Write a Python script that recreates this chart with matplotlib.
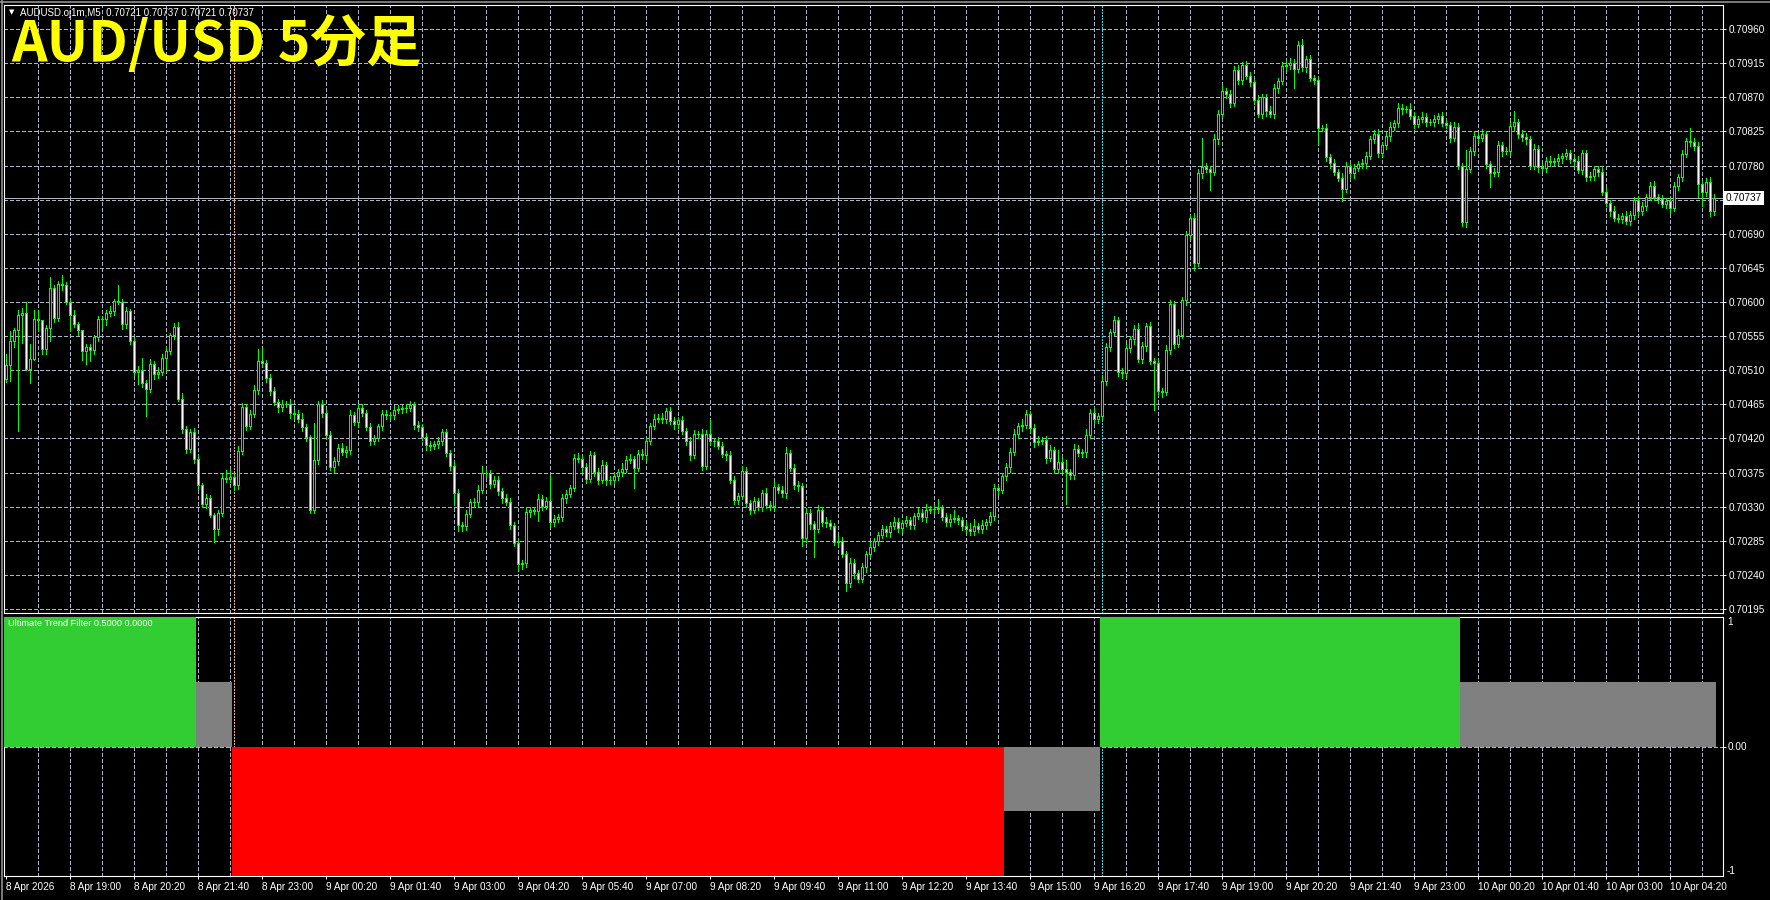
import matplotlib
matplotlib.use("Agg")
import matplotlib.pyplot as plt
from matplotlib.lines import Line2D
from matplotlib.transforms import blended_transform_factory

plt.rcParams['lines.scale_dashes'] = False

# AUDUSD M5 bars, first bar 8 Apr 17:40. prices in points above 0.70000
first_open = 499
closes = [
    517, 549, 563, 583, 585, 512, 525, 578, 576, 538, 566, 619, 579, 624, 622, 600, 583, 571, 563, 536,
    540, 537, 554, 577, 578, 585, 588, 601, 600, 571, 588, 549, 508, 510, 493, 485, 518, 505, 508, 526,
    536, 556, 567, 472, 433, 406, 428, 393, 358, 334, 342, 319, 301, 322, 368, 367, 369, 358, 404, 462,
    437, 452, 484, 522, 520, 500, 482, 468, 461, 466, 466, 453, 452, 446, 435, 422, 325, 391, 466, 454,
    424, 382, 390, 408, 402, 405, 451, 442, 460, 454, 435, 417, 420, 436, 452, 451, 451, 458, 459, 460,
    460, 464, 438, 435, 422, 411, 410, 413, 417, 428, 401, 384, 348, 306, 304, 320, 336, 336, 352, 374,
    375, 360, 365, 350, 341, 336, 306, 282, 255, 256, 323, 325, 324, 340, 331, 337, 310, 314, 316, 341,
    347, 355, 394, 393, 382, 366, 398, 376, 365, 385, 365, 365, 370, 376, 380, 392, 393, 381, 400, 398,
    416, 437, 446, 447, 446, 456, 443, 439, 444, 430, 416, 398, 426, 426, 384, 426, 417, 416, 410, 400,
    398, 365, 339, 344, 377, 335, 326, 337, 330, 348, 332, 331, 356, 352, 348, 401, 381, 358, 357, 289,
    322, 307, 301, 325, 310, 309, 304, 284, 285, 268, 229, 256, 242, 235, 250, 267, 277, 285, 292, 300,
    296, 305, 310, 302, 308, 312, 306, 318, 322, 316, 326, 327, 327, 328, 317, 310, 314, 315, 312, 305,
    300, 298, 304, 300, 306, 310, 318, 354, 352, 370, 382, 402, 426, 436, 438, 452, 434, 415, 417, 418,
    394, 405, 380, 389, 380, 376, 372, 406, 401, 402, 425, 454, 446, 450, 496, 541, 560, 576, 508, 506,
    539, 551, 564, 525, 542, 568, 522, 519, 482, 481, 537, 597, 545, 557, 602, 688, 711, 652, 770, 778,
    776, 772, 815, 848, 878, 874, 863, 906, 893, 912, 898, 890, 867, 848, 870, 852, 848, 882, 892, 911,
    913, 915, 908, 939, 910, 920, 895, 893, 829, 829, 791, 783, 771, 764, 749, 780, 770, 777, 782, 783,
    793, 815, 821, 797, 807, 819, 831, 836, 856, 854, 855, 846, 835, 842, 844, 838, 837, 842, 845, 836,
    834, 817, 831, 780, 705, 775, 799, 819, 817, 821, 782, 770, 771, 807, 799, 799, 832, 838, 821, 818,
    815, 780, 802, 778, 777, 786, 785, 786, 790, 793, 796, 788, 786, 774, 796, 765, 766, 775, 772, 745,
    731, 720, 711, 710, 714, 707, 715, 734, 720, 727, 738, 753, 739, 736, 729, 733, 724, 753, 765, 795,
    812, 811, 806, 756, 745, 758, 720, 737,
]
# wick length above / below the body, in points
wick_up = [
    14, 13, 3, 6, 7, 15, 20, 11, 11, 0, 4, 14, 3, 4, 11, 4, 3, 7, 3, 0,
    5, 4, 3, 4, 4, 5, 7, 3, 21, 4, 6, 3, 4, 5, 16, 4, 7, 4, 6, 5,
    4, 3, 5, 7, 8, 4, 5, 6, 4, 3, 5, 4, 3, 4, 5, 11, 11, 4, 6, 5,
    4, 5, 6, 16, 17, 4, 5, 6, 4, 5, 4, 6, 4, 5, 8, 4, 3, 50, 4, 5,
    4, 6, 5, 4, 6, 5, 7, 4, 5, 6, 4, 5, 4, 3, 6, 5, 4, 6, 5, 4,
    5, 6, 4, 5, 4, 5, 6, 4, 5, 4, 5, 4, 6, 5, 4, 6, 4, 5, 6, 9,
    5, 4, 6, 5, 4, 6, 5, 4, 5, 4, 6, 5, 4, 7, 5, 6, 35, 5, 4, 6,
    5, 4, 6, 7, 4, 5, 6, 4, 5, 7, 4, 6, 5, 4, 8, 5, 6, 4, 5, 6,
    5, 4, 6, 5, 7, 4, 6, 5, 4, 5, 4, 6, 5, 4, 6, 5, 19, 4, 6, 5,
    4, 5, 6, 4, 7, 5, 4, 6, 5, 4, 6, 5, 7, 4, 5, 8, 4, 5, 6, 4,
    6, 5, 4, 7, 5, 6, 4, 5, 6, 5, 4, 6, 5, 4, 6, 5, 7, 4, 5, 6,
    4, 5, 6, 5, 4, 6, 5, 4, 6, 5, 7, 4, 5, 12, 4, 5, 6, 10, 4, 5,
    6, 8, 10, 5, 6, 4, 5, 6, 5, 4, 6, 5, 7, 4, 8, 6, 4, 5, 6, 4,
    5, 6, 4, 16, 5, 12, 4, 6, 5, 4, 7, 5, 8, 4, 6, 5, 4, 5, 4, 5,
    6, 4, 5, 8, 5, 4, 6, 4, 5, 4, 6, 5, 4, 7, 5, 6, 4, 6, 5, 39,
    5, 4, 6, 5, 8, 4, 6, 5, 7, 4, 6, 5, 4, 6, 5, 4, 6, 5, 4, 6,
    5, 7, 6, 5, 8, 4, 6, 5, 4, 5, 6, 4, 5, 4, 6, 5, 4, 5, 4, 6,
    5, 4, 6, 7, 4, 5, 6, 4, 6, 5, 4, 7, 5, 4, 6, 5, 4, 5, 4, 6,
    5, 4, 6, 5, 4, 25, 6, 5, 4, 7, 5, 4, 6, 5, 4, 6, 5, 14, 4, 6,
    5, 4, 6, 5, 4, 5, 6, 4, 5, 4, 6, 5, 4, 7, 5, 4, 6, 5, 4, 6,
    5, 4, 6, 5, 4, 6, 5, 4, 6, 5, 4, 5, 6, 4, 5, 4, 6, 5, 4, 6,
    5, 17, 6, 5, 4, 6, 7, 5,
]
wick_dn = [
    5, 21, 8, 133, 37, 2, 19, 2, 14, 7, 6, 17, 5, 4, 6, 3, 21, 4, 6, 13,
    18, 15, 6, 5, 11, 8, 4, 5, 3, 6, 5, 4, 4, 16, 5, 35, 4, 6, 5, 4,
    16, 4, 5, 3, 6, 5, 4, 6, 5, 4, 6, 3, 18, 8, 4, 5, 4, 6, 5, 4,
    6, 5, 4, 5, 4, 6, 5, 4, 6, 5, 4, 6, 5, 4, 5, 6, 3, 4, 5, 6,
    5, 4, 6, 5, 4, 6, 5, 4, 6, 5, 4, 6, 5, 4, 5, 6, 4, 5, 4, 6,
    5, 4, 6, 5, 4, 6, 5, 4, 5, 6, 4, 5, 16, 8, 6, 5, 4, 6, 5, 4,
    5, 6, 4, 5, 6, 4, 5, 4, 8, 7, 5, 6, 4, 13, 5, 4, 6, 5, 4, 5,
    6, 4, 5, 4, 6, 5, 4, 6, 5, 4, 6, 5, 4, 5, 6, 4, 5, 26, 4, 5,
    6, 4, 5, 4, 6, 5, 4, 6, 5, 4, 5, 6, 4, 5, 6, 4, 5, 6, 4, 5,
    6, 4, 5, 6, 4, 5, 6, 4, 5, 6, 4, 5, 6, 4, 5, 6, 4, 5, 6, 11,
    5, 6, 37, 4, 5, 6, 4, 5, 6, 4, 10, 5, 6, 4, 5, 6, 4, 5, 6, 4,
    5, 6, 4, 5, 6, 4, 5, 6, 4, 5, 6, 4, 5, 6, 4, 5, 6, 4, 5, 6,
    4, 5, 6, 4, 5, 6, 4, 5, 6, 4, 5, 6, 4, 5, 6, 4, 5, 6, 4, 5,
    6, 4, 5, 6, 4, 43, 5, 6, 4, 5, 6, 4, 5, 6, 4, 5, 6, 4, 5, 6,
    4, 5, 6, 4, 5, 6, 4, 62, 5, 6, 4, 5, 6, 4, 5, 6, 4, 10, 5, 6,
    4, 24, 5, 6, 4, 5, 6, 4, 5, 6, 4, 5, 6, 4, 5, 6, 4, 5, 6, 4,
    5, 6, 26, 4, 5, 6, 4, 5, 21, 4, 5, 6, 4, 5, 16, 4, 5, 6, 4, 5,
    6, 4, 5, 6, 4, 5, 6, 4, 5, 6, 4, 5, 6, 4, 5, 6, 4, 5, 6, 4,
    5, 6, 4, 5, 5, 6, 4, 5, 6, 4, 5, 18, 4, 5, 6, 4, 5, 6, 4, 5,
    6, 4, 5, 6, 4, 5, 6, 4, 5, 6, 4, 5, 6, 4, 5, 6, 4, 5, 6, 4,
    5, 6, 4, 5, 6, 4, 5, 6, 4, 5, 6, 4, 5, 6, 4, 5, 6, 4, 5, 6,
    4, 5, 6, 18, 18, 5, 6, 5,
]

# Ultimate Trend Filter histogram, as runs of bars
trend_runs = [48, 9, 193, 24, 90, 64]
trend_vals = [1.0, 0.5, -1.0, -0.5, 1.0, 0.5]
trend_cols = ['#32cd32', '#808080', '#ff0000', '#808080', '#32cd32', '#808080']

price_levels = [0.70195, 0.70240, 0.70285, 0.70330, 0.70375, 0.70420, 0.70465, 0.70510, 0.70555,
                0.70600, 0.70645, 0.70690, 0.70735, 0.70780, 0.70825, 0.70870, 0.70915, 0.70960]
price_labels = ['0.70195', '0.70240', '0.70285', '0.70330', '0.70375', '0.70420', '0.70465', '0.70510',
                '0.70555', '0.70600', '0.70645', '0.70690', '', '0.70780', '0.70825', '0.70870',
                '0.70915', '0.70960']
last_price = 0.70737

time_bars = [0, 16, 32, 48, 64, 80, 96, 112, 128, 144, 160, 176, 192, 208, 224, 240, 256, 272, 288,
             304, 320, 336, 352, 368, 384, 400, 416]
time_labels = ['8 Apr 2026', '8 Apr 19:00', '8 Apr 20:20', '8 Apr 21:40', '8 Apr 23:00',
               '9 Apr 00:20', '9 Apr 01:40', '9 Apr 03:00', '9 Apr 04:20', '9 Apr 05:40',
               '9 Apr 07:00', '9 Apr 08:20', '9 Apr 09:40', '9 Apr 11:00', '9 Apr 12:20',
               '9 Apr 13:40', '9 Apr 15:00', '9 Apr 16:20', '9 Apr 17:40', '9 Apr 19:00',
               '9 Apr 20:20', '9 Apr 21:40', '9 Apr 23:00', '10 Apr 00:20', '10 Apr 01:40',
               '10 Apr 03:00', '10 Apr 04:20']
signal_bars = [57, 274]
signal_cols = ['#f0a8b8', '#30d8e8']

LIME = '#00ff00'
GRID = '#a8b4c8'
FONT = 'Liberation Sans'
W, H = 1770, 900

fig = plt.figure(figsize=(W / 100, H / 100), dpi=100, facecolor='black')
ax = fig.add_axes([4 / W, 1 - 613 / H, 1719 / W, 608 / H], facecolor='black')
ax2 = fig.add_axes([4 / W, 1 - 876 / H, 1719 / W, 259 / H], facecolor='black')

n = len(closes)
xs = list(range(n))
opens = [first_open] + closes[:-1]
o = [0.7 + v / 1e5 for v in opens]
c = [0.7 + v / 1e5 for v in closes]
hi = [max(a, b) + u / 1e5 for a, b, u in zip(o, c, wick_up)]
lo = [min(a, b) - d / 1e5 for a, b, d in zip(o, c, wick_dn)]

for a in (ax, ax2):
    a.set_xlim(-0.425, 429.3)
    for s in a.spines.values():
        s.set_color('white')
        s.set_linewidth(0.8)
    for b in range(8, n, 8):
        a.axvline(b, color=GRID, lw=0.5, ls=(0, (2.2, 1.5)), zorder=1, antialiased=False)
    for b, col in zip(signal_bars, signal_cols):
        a.axvline(b, color=col, lw=0.5, ls=(0, (1.4, 1.4)), zorder=1.5, antialiased=False)

# main price panel
ax.set_ylim(0.701897, 0.709918)
for p in price_levels:
    ax.axhline(p, color=GRID, lw=0.5, ls=(0, (2.2, 1.5)), zorder=1, antialiased=False)
ax.axhline(last_price, color='#b4b4b4', lw=0.5, zorder=2, antialiased=False)

ax.vlines(xs, lo, hi, color=LIME, lw=0.5, zorder=3, antialiased=False)
bottoms = [min(a, b) for a, b in zip(o, c)]
heights = [abs(b - a) for a, b in zip(o, c)]
faces = ['black' if b >= a else 'white' for a, b in zip(o, c)]
ax.bar(xs, heights, bottom=bottoms, width=0.55, color=faces, edgecolor=LIME,
       linewidth=0.5, zorder=4, antialiased=False)

ax.yaxis.tick_right()
ax.set_yticks(price_levels, price_labels)
ax.tick_params(axis='y', colors='white', length=2.2, width=0.72, pad=1.6, labelsize=7.2)
ax.set_xticks([])
for t in ax.get_yticklabels():
    t.set_fontfamily(FONT)
tr = blended_transform_factory(ax.transAxes, ax.transData)
ax.text(1.0 + 2.5 / 1719, last_price, '0.70737', transform=tr, ha='left', va='center',
        color='black', fontsize=7.2, family=FONT,
        bbox=dict(boxstyle='square,pad=0.22', facecolor='white', edgecolor='none'))

# indicator panel
ax2.set_ylim(-1.0, 1.0)
ax2.axhline(0, color=GRID, lw=0.5, ls=(0, (2.2, 1.5)), zorder=1, antialiased=False)
start = 0
for run, val, col in zip(trend_runs, trend_vals, trend_cols):
    ax2.bar(start - 0.5, val, width=run, align='edge', color=col, linewidth=0, zorder=3)
    start += run
ax2.yaxis.tick_right()
ax2.set_yticks([0], ['0.00'])
ax2.tick_params(axis='y', colors='white', length=2.2, width=0.72, pad=1.0, labelsize=7.2)
ax2.set_xticks(time_bars, time_labels)
ax2.tick_params(axis='x', colors='white', length=2.5, width=0.72, pad=1.5, labelsize=7.2)
for t in ax2.get_xticklabels() + ax2.get_yticklabels():
    t.set_fontfamily(FONT)
for t in ax2.get_xticklabels():
    t.set_ha('left')
tr2 = blended_transform_factory(ax2.transAxes, ax2.transData)
ax2.text(1.0 + 4 / 1719, 1.0, '1', transform=tr2, ha='left', va='top', color='white',
         fontsize=7.2, family=FONT)
ax2.text(1.0 + 4 / 1719, -1.0, '-1', transform=tr2, ha='left', va='bottom', color='white',
         fontsize=7.2, family=FONT)

# texts
fig.text(9 / W, 1 - 12.5 / H, '\u25bc', color='white', fontsize=5, va='center')
fig.text(20 / W, 1 - 12.5 / H, 'AUDUSD.oj1m,M5  0.70721 0.70737 0.70721 0.70737', color='white',
         fontsize=7.0, family=FONT, va='center')
fig.text(8 / W, 1 - 623 / H, 'Ultimate Trend Filter 0.5000 0.0000', color='white',
         fontsize=6.6, family=FONT, va='center')
fig.text(11 / W, 1 - 61 / H, 'AUD/USD 5分足', color='#ffff00', fontsize=40, fontweight='bold',
         family=['Noto Sans CJK JP', 'DejaVu Sans'], va='baseline')

fig.add_artist(Line2D([1.5 / W, 1.5 / W], [0, 1], color='#909090', lw=1.2))
fig.add_artist(Line2D([0, 1], [1 - 1.5 / H, 1 - 1.5 / H], color='#909090', lw=1.2))

fig.savefig('out.png', dpi=100, facecolor='black')
